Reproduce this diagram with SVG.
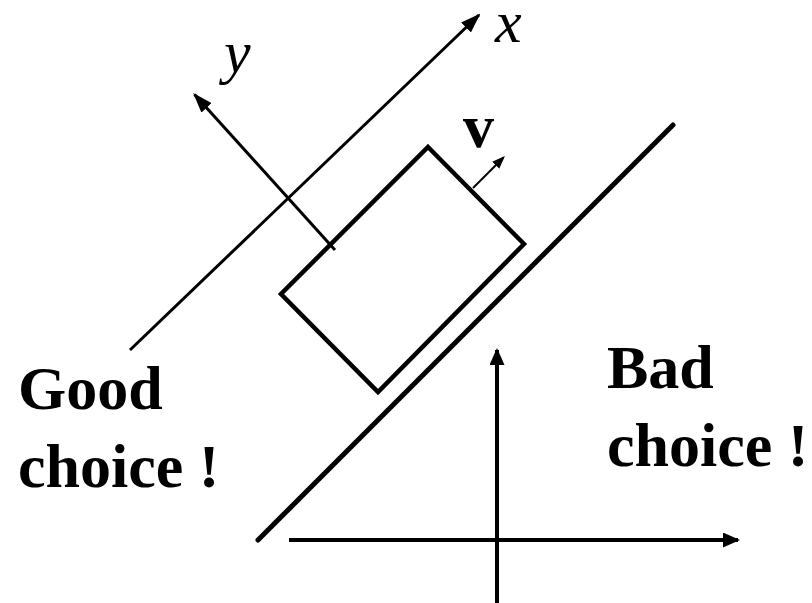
<svg xmlns="http://www.w3.org/2000/svg" width="812" height="603" viewBox="0 0 812 603">
<style>
.ln{stroke:#000;fill:none}
.lbl{font-family:"Liberation Serif","Times New Roman",serif;font-weight:bold;font-size:62px;fill:#000}
.ax{font-family:"Liberation Serif","Times New Roman",serif;font-style:italic;font-size:60px;fill:#000}
</style>
<defs>
<marker id="ah" markerUnits="userSpaceOnUse" viewBox="0 0 20 14" markerWidth="20" markerHeight="14" refX="18" refY="7" orient="auto">
<path d="M0,0 L20,7 L0,14 z" fill="#000"/>
</marker>
<marker id="ah2" markerUnits="userSpaceOnUse" viewBox="0 0 17 15" markerWidth="17" markerHeight="15" refX="15" refY="7.5" orient="auto">
<path d="M0,0 L17,7.5 L0,15 z" fill="#000"/>
</marker>
<marker id="ahs" markerUnits="userSpaceOnUse" viewBox="0 0 13 10" markerWidth="13" markerHeight="10" refX="11" refY="5" orient="auto">
<path d="M0,0 L13,5 L0,10 z" fill="#000"/>
</marker>
</defs>
<g id="connectors">
<line class="ln" x1="130" y1="350" x2="479" y2="15" stroke-width="3" marker-end="url(#ah)"/>
<line class="ln" x1="335" y1="250" x2="194.5" y2="94.5" stroke-width="3" marker-end="url(#ah)"/>
<line class="ln" x1="473" y1="188" x2="503.5" y2="157.5" stroke-width="2" marker-end="url(#ahs)"/>
<line class="ln" x1="289" y1="540" x2="738" y2="540" stroke-width="4" marker-end="url(#ah2)"/>
<line class="ln" x1="497" y1="603" x2="497" y2="350" stroke-width="4" marker-end="url(#ah2)"/>
</g>
<g id="slope">
<line class="ln" x1="258" y1="540" x2="673" y2="125" stroke-width="5" stroke-linecap="round"/>
</g>
<g id="box">
<polygon class="ln" points="428,147 524,244 378,392 281,294" stroke-width="4.5"/>
</g>
<g id="labels">
<text class="ax" x="224" y="72">y</text>
<text class="ax" x="495" y="42">x</text>
<text class="lbl" x="463" y="147" font-size="60">v</text>
</g>
<g id="good">
<text class="lbl" x="18" y="409">Good</text>
<text class="lbl" x="18" y="487">choice !</text>
</g>
<g id="bad">
<text class="lbl" x="607" y="388">Bad</text>
<text class="lbl" x="607" y="466">choice !</text>
</g>
</svg>
